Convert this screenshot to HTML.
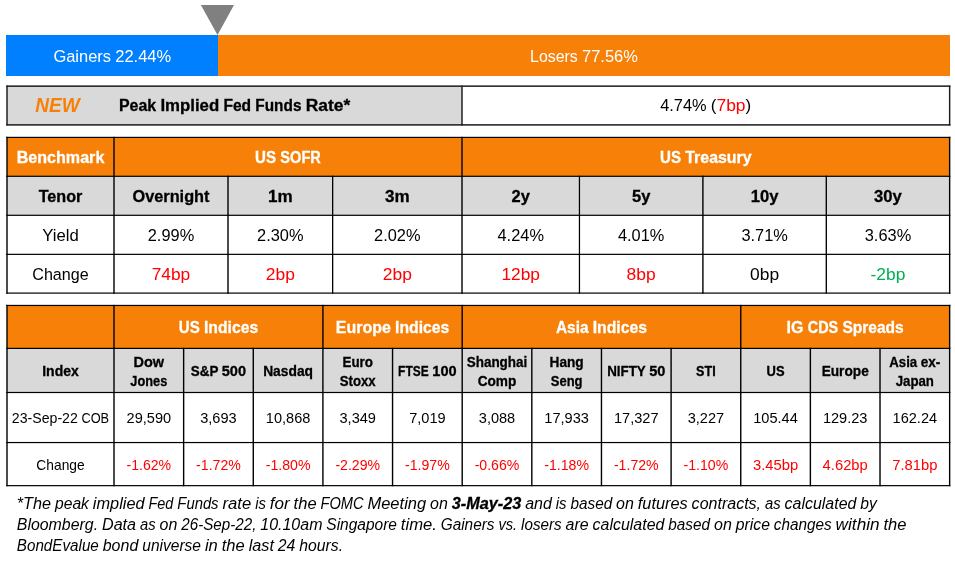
<!DOCTYPE html>
<html lang="en">
<head>
<meta charset="utf-8">
<title>Market Snapshot</title>
<style>
html,body{margin:0;padding:0;background:#fff;}
body{width:955px;height:562px;overflow:hidden;font-family:"Liberation Sans",sans-serif;}
svg{display:block;}
svg text{font-family:"Liberation Sans",sans-serif;white-space:pre;}
</style>
</head>
<body>
<svg width="955" height="562" viewBox="0 0 955 562">
<rect x="6.00" y="35.00" width="212.00" height="41.00" fill="#0080FF"/>
<rect x="218.00" y="35.00" width="732.00" height="41.00" fill="#F78008"/>
<polygon points="200.9,5 234,5 217.5,34.9" fill="#808080"/>
<text y="61.50" font-size="16.80" fill="#fff"><tspan x="53.43" textLength="57.60" lengthAdjust="spacingAndGlyphs">Gainers</tspan> <tspan x="115.25" textLength="55.91" lengthAdjust="spacingAndGlyphs">22.44%</tspan></text>
<text y="61.50" font-size="16.80" fill="#fff"><tspan x="530.04" textLength="47.78" lengthAdjust="spacingAndGlyphs">Losers</tspan> <tspan x="582.04" textLength="55.91" lengthAdjust="spacingAndGlyphs">77.56%</tspan></text>
<rect x="7.00" y="86.00" width="455.00" height="38.90" fill="#D9D9D9"/>
<rect x="6.25" y="85.40" width="944.15" height="1.50" fill="#1c1c1c"/>
<rect x="6.25" y="124.15" width="944.15" height="1.50" fill="#1c1c1c"/>
<rect x="6.28" y="85.55" width="1.45" height="39.95" fill="#1c1c1c"/>
<rect x="461.27" y="85.55" width="1.45" height="39.95" fill="#1c1c1c"/>
<rect x="948.92" y="85.55" width="1.45" height="39.95" fill="#1c1c1c"/>
<text x="35.2" y="111.5" font-size="19.6" font-weight="bold" font-style="italic" fill="#F78008" textLength="44.5" lengthAdjust="spacingAndGlyphs">NEW</text>
<text y="110.90" font-size="16.80" font-weight="bold" stroke="#000" stroke-width="0.3"><tspan x="119.00" textLength="37.21" lengthAdjust="spacingAndGlyphs">Peak</tspan> <tspan x="160.44" textLength="58.78" lengthAdjust="spacingAndGlyphs">Implied</tspan> <tspan x="223.43" textLength="27.71" lengthAdjust="spacingAndGlyphs">Fed</tspan> <tspan x="255.37" textLength="46.07" lengthAdjust="spacingAndGlyphs">Funds</tspan> <tspan x="305.66" textLength="44.50" lengthAdjust="spacingAndGlyphs">Rate*</tspan></text>
<text y="110.90" font-size="16.80"><tspan x="660.16" textLength="46.45" lengthAdjust="spacingAndGlyphs">4.74%</tspan> <tspan x="710.83" textLength="5.66" lengthAdjust="spacingAndGlyphs">(</tspan><tspan x="716.49" textLength="29.08" lengthAdjust="spacingAndGlyphs" fill="#FF0000">7bp</tspan><tspan x="745.58" textLength="5.66" lengthAdjust="spacingAndGlyphs">)</tspan></text>
<rect x="7.00" y="137.40" width="942.65" height="38.90" fill="#F78008"/>
<rect x="7.00" y="176.30" width="942.65" height="39.00" fill="#D9D9D9"/>
<rect x="6.25" y="136.80" width="944.15" height="1.20" fill="#000"/>
<rect x="6.25" y="175.70" width="944.15" height="1.20" fill="#000"/>
<rect x="6.25" y="214.70" width="944.15" height="1.20" fill="#000"/>
<rect x="6.25" y="253.75" width="944.15" height="1.20" fill="#000"/>
<rect x="6.25" y="292.50" width="944.15" height="1.20" fill="#000"/>
<rect x="6.30" y="136.80" width="1.40" height="156.90" fill="#000"/>
<rect x="113.30" y="136.80" width="1.40" height="156.90" fill="#000"/>
<rect x="227.30" y="175.70" width="1.40" height="118.00" fill="#000"/>
<rect x="332.00" y="175.70" width="1.30" height="118.00" fill="#000"/>
<rect x="461.30" y="136.80" width="1.40" height="156.90" fill="#000"/>
<rect x="578.83" y="175.70" width="1.25" height="118.00" fill="#000"/>
<rect x="702.20" y="175.70" width="1.40" height="118.00" fill="#000"/>
<rect x="825.62" y="175.70" width="1.35" height="118.00" fill="#000"/>
<rect x="948.95" y="136.80" width="1.40" height="156.90" fill="#000"/>
<text x="16.64" y="162.85" font-size="16.80" textLength="87.72" lengthAdjust="spacingAndGlyphs" fill="#fff" font-weight="bold" stroke="#fff" stroke-width="0.3">Benchmark</text>
<text y="162.85" font-size="16.80" fill="#fff" font-weight="bold" stroke="#fff" stroke-width="0.3"><tspan x="255.12" textLength="21.01" lengthAdjust="spacingAndGlyphs">US</tspan> <tspan x="280.35" textLength="40.53" lengthAdjust="spacingAndGlyphs">SOFR</tspan></text>
<text y="162.85" font-size="16.80" fill="#fff" font-weight="bold" stroke="#fff" stroke-width="0.3"><tspan x="660.03" textLength="21.01" lengthAdjust="spacingAndGlyphs">US</tspan> <tspan x="685.26" textLength="66.36" lengthAdjust="spacingAndGlyphs">Treasury</tspan></text>
<text x="38.64" y="201.80" font-size="16.80" textLength="43.72" lengthAdjust="spacingAndGlyphs" font-weight="bold" stroke="#000" stroke-width="0.3">Tenor</text>
<text x="132.45" y="201.80" font-size="16.80" textLength="77.10" lengthAdjust="spacingAndGlyphs" font-weight="bold" stroke="#000" stroke-width="0.3">Overnight</text>
<text x="268.00" y="201.80" font-size="16.80" textLength="24.65" lengthAdjust="spacingAndGlyphs" font-weight="bold" stroke="#000" stroke-width="0.3">1m</text>
<text x="385.00" y="201.80" font-size="16.80" textLength="24.65" lengthAdjust="spacingAndGlyphs" font-weight="bold" stroke="#000" stroke-width="0.3">3m</text>
<text x="511.57" y="201.80" font-size="16.80" textLength="18.31" lengthAdjust="spacingAndGlyphs" font-weight="bold" stroke="#000" stroke-width="0.3">2y</text>
<text x="632.02" y="201.80" font-size="16.80" textLength="18.31" lengthAdjust="spacingAndGlyphs" font-weight="bold" stroke="#000" stroke-width="0.3">5y</text>
<text x="750.71" y="201.80" font-size="16.80" textLength="27.77" lengthAdjust="spacingAndGlyphs" font-weight="bold" stroke="#000" stroke-width="0.3">10y</text>
<text x="874.09" y="201.80" font-size="16.80" textLength="27.77" lengthAdjust="spacingAndGlyphs" font-weight="bold" stroke="#000" stroke-width="0.3">30y</text>
<text x="42.26" y="240.82" font-size="16.80" textLength="36.48" lengthAdjust="spacingAndGlyphs">Yield</text>
<text x="147.78" y="240.82" font-size="16.80" textLength="46.45" lengthAdjust="spacingAndGlyphs">2.99%</text>
<text x="257.10" y="240.82" font-size="16.80" textLength="46.45" lengthAdjust="spacingAndGlyphs">2.30%</text>
<text x="374.10" y="240.82" font-size="16.80" textLength="46.45" lengthAdjust="spacingAndGlyphs">2.02%</text>
<text x="497.50" y="240.82" font-size="16.80" textLength="46.45" lengthAdjust="spacingAndGlyphs">4.24%</text>
<text x="617.95" y="240.82" font-size="16.80" textLength="46.45" lengthAdjust="spacingAndGlyphs">4.01%</text>
<text x="741.38" y="240.82" font-size="16.80" textLength="46.45" lengthAdjust="spacingAndGlyphs">3.71%</text>
<text x="864.75" y="240.82" font-size="16.80" textLength="46.45" lengthAdjust="spacingAndGlyphs">3.63%</text>
<text x="32.28" y="279.73" font-size="16.80" textLength="56.44" lengthAdjust="spacingAndGlyphs">Change</text>
<text x="151.73" y="279.73" font-size="16.80" textLength="38.54" lengthAdjust="spacingAndGlyphs" fill="#FF0000">74bp</text>
<text x="265.78" y="279.73" font-size="16.80" textLength="29.08" lengthAdjust="spacingAndGlyphs" fill="#FF0000">2bp</text>
<text x="382.78" y="279.73" font-size="16.80" textLength="29.08" lengthAdjust="spacingAndGlyphs" fill="#FF0000">2bp</text>
<text x="501.45" y="279.73" font-size="16.80" textLength="38.54" lengthAdjust="spacingAndGlyphs" fill="#FF0000">12bp</text>
<text x="626.63" y="279.73" font-size="16.80" textLength="29.08" lengthAdjust="spacingAndGlyphs" fill="#FF0000">8bp</text>
<text x="750.06" y="279.73" font-size="16.80" textLength="29.08" lengthAdjust="spacingAndGlyphs">0bp</text>
<text x="870.58" y="279.73" font-size="16.80" textLength="34.80" lengthAdjust="spacingAndGlyphs" fill="#00B050">-2bp</text>
<rect x="7.00" y="305.45" width="942.65" height="42.95" fill="#F78008"/>
<rect x="7.00" y="348.40" width="942.65" height="44.10" fill="#D9D9D9"/>
<rect x="6.25" y="304.85" width="944.15" height="1.20" fill="#000"/>
<rect x="6.25" y="347.80" width="944.15" height="1.20" fill="#000"/>
<rect x="6.25" y="391.90" width="944.15" height="1.20" fill="#000"/>
<rect x="6.25" y="441.95" width="944.15" height="1.20" fill="#000"/>
<rect x="6.25" y="485.05" width="944.15" height="1.20" fill="#000"/>
<rect x="6.30" y="304.85" width="1.40" height="181.40" fill="#000"/>
<rect x="113.30" y="304.85" width="1.40" height="181.40" fill="#000"/>
<rect x="182.94" y="347.80" width="1.40" height="138.45" fill="#000"/>
<rect x="252.58" y="347.80" width="1.40" height="138.45" fill="#000"/>
<rect x="322.21" y="304.85" width="1.40" height="181.40" fill="#000"/>
<rect x="391.85" y="347.80" width="1.40" height="138.45" fill="#000"/>
<rect x="461.49" y="304.85" width="1.40" height="181.40" fill="#000"/>
<rect x="531.12" y="347.80" width="1.40" height="138.45" fill="#000"/>
<rect x="600.76" y="347.80" width="1.40" height="138.45" fill="#000"/>
<rect x="670.40" y="347.80" width="1.40" height="138.45" fill="#000"/>
<rect x="740.04" y="304.85" width="1.40" height="181.40" fill="#000"/>
<rect x="809.67" y="347.80" width="1.40" height="138.45" fill="#000"/>
<rect x="879.31" y="347.80" width="1.40" height="138.45" fill="#000"/>
<rect x="948.95" y="304.85" width="1.40" height="181.40" fill="#000"/>
<text y="332.92" font-size="16.80" fill="#fff" font-weight="bold" stroke="#fff" stroke-width="0.3"><tspan x="178.71" textLength="21.01" lengthAdjust="spacingAndGlyphs">US</tspan> <tspan x="203.94" textLength="54.26" lengthAdjust="spacingAndGlyphs">Indices</tspan></text>
<text y="332.92" font-size="16.80" fill="#fff" font-weight="bold" stroke="#fff" stroke-width="0.3"><tspan x="335.81" textLength="54.99" lengthAdjust="spacingAndGlyphs">Europe</tspan> <tspan x="395.03" textLength="54.26" lengthAdjust="spacingAndGlyphs">Indices</tspan></text>
<text y="332.92" font-size="16.80" fill="#fff" font-weight="bold" stroke="#fff" stroke-width="0.3"><tspan x="555.94" textLength="32.56" lengthAdjust="spacingAndGlyphs">Asia</tspan> <tspan x="592.72" textLength="54.26" lengthAdjust="spacingAndGlyphs">Indices</tspan></text>
<text y="332.92" font-size="16.80" fill="#fff" font-weight="bold" stroke="#fff" stroke-width="0.3"><tspan x="786.62" textLength="16.87" lengthAdjust="spacingAndGlyphs">IG</tspan> <tspan x="807.72" textLength="30.48" lengthAdjust="spacingAndGlyphs">CDS</tspan> <tspan x="842.41" textLength="61.35" lengthAdjust="spacingAndGlyphs">Spreads</tspan></text>
<text x="42.20" y="375.60" font-size="14.40" textLength="36.59" lengthAdjust="spacingAndGlyphs" font-weight="bold" stroke="#000" stroke-width="0.3">Index</text>
<text x="133.53" y="366.60" font-size="14.40" textLength="30.58" lengthAdjust="spacingAndGlyphs" font-weight="bold" stroke="#000" stroke-width="0.3">Dow</text>
<text x="130.36" y="386.10" font-size="14.40" textLength="36.92" lengthAdjust="spacingAndGlyphs" font-weight="bold" stroke="#000" stroke-width="0.3">Jones</text>
<text y="375.60" font-size="14.40" font-weight="bold" stroke="#000" stroke-width="0.3"><tspan x="190.81" textLength="27.35" lengthAdjust="spacingAndGlyphs">S&amp;P</tspan> <tspan x="221.78" textLength="24.33" lengthAdjust="spacingAndGlyphs">500</tspan></text>
<text x="263.15" y="375.60" font-size="14.40" textLength="49.89" lengthAdjust="spacingAndGlyphs" font-weight="bold" stroke="#000" stroke-width="0.3">Nasdaq</text>
<text x="342.49" y="366.60" font-size="14.40" textLength="30.48" lengthAdjust="spacingAndGlyphs" font-weight="bold" stroke="#000" stroke-width="0.3">Euro</text>
<text x="339.76" y="386.10" font-size="14.40" textLength="35.94" lengthAdjust="spacingAndGlyphs" font-weight="bold" stroke="#000" stroke-width="0.3">Stoxx</text>
<text y="375.60" font-size="14.40" font-weight="bold" stroke="#000" stroke-width="0.3"><tspan x="398.12" textLength="30.56" lengthAdjust="spacingAndGlyphs">FTSE</tspan> <tspan x="432.29" textLength="24.33" lengthAdjust="spacingAndGlyphs">100</tspan></text>
<text x="466.69" y="366.60" font-size="14.40" textLength="60.63" lengthAdjust="spacingAndGlyphs" font-weight="bold" stroke="#000" stroke-width="0.3">Shanghai</text>
<text x="477.67" y="386.10" font-size="14.40" textLength="38.67" lengthAdjust="spacingAndGlyphs" font-weight="bold" stroke="#000" stroke-width="0.3">Comp</text>
<text x="549.56" y="366.60" font-size="14.40" textLength="34.16" lengthAdjust="spacingAndGlyphs" font-weight="bold" stroke="#000" stroke-width="0.3">Hang</text>
<text x="550.75" y="386.10" font-size="14.40" textLength="31.79" lengthAdjust="spacingAndGlyphs" font-weight="bold" stroke="#000" stroke-width="0.3">Seng</text>
<text y="375.60" font-size="14.40" font-weight="bold" stroke="#000" stroke-width="0.3"><tspan x="607.17" textLength="38.38" lengthAdjust="spacingAndGlyphs">NIFTY</tspan> <tspan x="649.17" textLength="16.22" lengthAdjust="spacingAndGlyphs">50</tspan></text>
<text x="696.12" y="375.60" font-size="14.40" textLength="19.59" lengthAdjust="spacingAndGlyphs" font-weight="bold" stroke="#000" stroke-width="0.3">STI</text>
<text x="766.55" y="375.60" font-size="14.40" textLength="18.01" lengthAdjust="spacingAndGlyphs" font-weight="bold" stroke="#000" stroke-width="0.3">US</text>
<text x="821.63" y="375.60" font-size="14.40" textLength="47.13" lengthAdjust="spacingAndGlyphs" font-weight="bold" stroke="#000" stroke-width="0.3">Europe</text>
<text y="366.60" font-size="14.40" font-weight="bold" stroke="#000" stroke-width="0.3"><tspan x="889.30" textLength="27.91" lengthAdjust="spacingAndGlyphs">Asia</tspan> <tspan x="920.82" textLength="19.55" lengthAdjust="spacingAndGlyphs">ex-</tspan></text>
<text x="895.70" y="386.10" font-size="14.40" textLength="38.27" lengthAdjust="spacingAndGlyphs" font-weight="bold" stroke="#000" stroke-width="0.3">Japan</text>
<text y="423.00" font-size="14.40"><tspan x="11.87" textLength="65.96" lengthAdjust="spacingAndGlyphs">23-Sep-22</tspan> <tspan x="81.44" textLength="27.69" lengthAdjust="spacingAndGlyphs">COB</tspan></text>
<text x="126.55" y="423.00" font-size="14.40" textLength="44.54" lengthAdjust="spacingAndGlyphs">29,590</text>
<text x="200.24" y="423.00" font-size="14.40" textLength="36.43" lengthAdjust="spacingAndGlyphs">3,693</text>
<text x="265.82" y="423.00" font-size="14.40" textLength="44.54" lengthAdjust="spacingAndGlyphs">10,868</text>
<text x="339.52" y="423.00" font-size="14.40" textLength="36.43" lengthAdjust="spacingAndGlyphs">3,349</text>
<text x="409.15" y="423.00" font-size="14.40" textLength="36.43" lengthAdjust="spacingAndGlyphs">7,019</text>
<text x="478.79" y="423.00" font-size="14.40" textLength="36.43" lengthAdjust="spacingAndGlyphs">3,088</text>
<text x="544.37" y="423.00" font-size="14.40" textLength="44.54" lengthAdjust="spacingAndGlyphs">17,933</text>
<text x="614.01" y="423.00" font-size="14.40" textLength="44.54" lengthAdjust="spacingAndGlyphs">17,327</text>
<text x="687.70" y="423.00" font-size="14.40" textLength="36.43" lengthAdjust="spacingAndGlyphs">3,227</text>
<text x="753.26" y="423.00" font-size="14.40" textLength="44.59" lengthAdjust="spacingAndGlyphs">105.44</text>
<text x="822.90" y="423.00" font-size="14.40" textLength="44.59" lengthAdjust="spacingAndGlyphs">129.23</text>
<text x="892.54" y="423.00" font-size="14.40" textLength="44.59" lengthAdjust="spacingAndGlyphs">162.24</text>
<text x="36.32" y="469.50" font-size="14.40" textLength="48.37" lengthAdjust="spacingAndGlyphs">Change</text>
<text x="126.47" y="469.50" font-size="14.40" textLength="44.70" lengthAdjust="spacingAndGlyphs" fill="#FF0000">-1.62%</text>
<text x="196.10" y="469.50" font-size="14.40" textLength="44.70" lengthAdjust="spacingAndGlyphs" fill="#FF0000">-1.72%</text>
<text x="265.74" y="469.50" font-size="14.40" textLength="44.70" lengthAdjust="spacingAndGlyphs" fill="#FF0000">-1.80%</text>
<text x="335.38" y="469.50" font-size="14.40" textLength="44.70" lengthAdjust="spacingAndGlyphs" fill="#FF0000">-2.29%</text>
<text x="405.02" y="469.50" font-size="14.40" textLength="44.70" lengthAdjust="spacingAndGlyphs" fill="#FF0000">-1.97%</text>
<text x="474.65" y="469.50" font-size="14.40" textLength="44.70" lengthAdjust="spacingAndGlyphs" fill="#FF0000">-0.66%</text>
<text x="544.29" y="469.50" font-size="14.40" textLength="44.70" lengthAdjust="spacingAndGlyphs" fill="#FF0000">-1.18%</text>
<text x="613.93" y="469.50" font-size="14.40" textLength="44.70" lengthAdjust="spacingAndGlyphs" fill="#FF0000">-1.72%</text>
<text x="683.57" y="469.50" font-size="14.40" textLength="44.70" lengthAdjust="spacingAndGlyphs" fill="#FF0000">-1.10%</text>
<text x="752.97" y="469.50" font-size="14.40" textLength="45.18" lengthAdjust="spacingAndGlyphs" fill="#FF0000">3.45bp</text>
<text x="822.60" y="469.50" font-size="14.40" textLength="45.18" lengthAdjust="spacingAndGlyphs" fill="#FF0000">4.62bp</text>
<text x="892.24" y="469.50" font-size="14.40" textLength="45.18" lengthAdjust="spacingAndGlyphs" fill="#FF0000">7.81bp</text>
<text y="508.60" font-size="15.60"><tspan x="16.80" textLength="34.26" lengthAdjust="spacingAndGlyphs" font-style="italic">*The</tspan> <tspan x="54.98" textLength="33.97" lengthAdjust="spacingAndGlyphs" font-style="italic">peak</tspan> <tspan x="92.87" textLength="51.74" lengthAdjust="spacingAndGlyphs" font-style="italic">implied</tspan> <tspan x="148.53" textLength="24.89" lengthAdjust="spacingAndGlyphs" font-style="italic">Fed</tspan> <tspan x="177.34" textLength="41.21" lengthAdjust="spacingAndGlyphs" font-style="italic">Funds</tspan> <tspan x="222.46" textLength="28.75" lengthAdjust="spacingAndGlyphs" font-style="italic">rate</tspan> <tspan x="255.13" textLength="10.72" lengthAdjust="spacingAndGlyphs" font-style="italic">is</tspan> <tspan x="269.77" textLength="19.91" lengthAdjust="spacingAndGlyphs" font-style="italic">for</tspan> <tspan x="293.60" textLength="22.99" lengthAdjust="spacingAndGlyphs" font-style="italic">the</tspan> <tspan x="320.51" textLength="43.02" lengthAdjust="spacingAndGlyphs" font-style="italic">FOMC</tspan> <tspan x="367.45" textLength="58.75" lengthAdjust="spacingAndGlyphs" font-style="italic">Meeting</tspan> <tspan x="430.12" textLength="17.80" lengthAdjust="spacingAndGlyphs" font-style="italic">on</tspan><tspan x="451.84" textLength="69.41" lengthAdjust="spacingAndGlyphs" font-weight="bold" stroke="#000" stroke-width="0.3" font-style="italic">3-May-23</tspan> <tspan x="525.16" textLength="26.73" lengthAdjust="spacingAndGlyphs" font-style="italic">and</tspan> <tspan x="555.81" textLength="10.72" lengthAdjust="spacingAndGlyphs" font-style="italic">is</tspan> <tspan x="570.45" textLength="41.75" lengthAdjust="spacingAndGlyphs" font-style="italic">based</tspan> <tspan x="616.12" textLength="17.80" lengthAdjust="spacingAndGlyphs" font-style="italic">on</tspan> <tspan x="637.84" textLength="49.88" lengthAdjust="spacingAndGlyphs" font-style="italic">futures</tspan> <tspan x="691.64" textLength="69.44" lengthAdjust="spacingAndGlyphs" font-style="italic">contracts,</tspan> <tspan x="765.00" textLength="15.65" lengthAdjust="spacingAndGlyphs" font-style="italic">as</tspan> <tspan x="784.57" textLength="71.80" lengthAdjust="spacingAndGlyphs" font-style="italic">calculated</tspan> <tspan x="860.29" textLength="16.58" lengthAdjust="spacingAndGlyphs" font-style="italic">by</tspan></text>
<text y="529.60" font-size="15.60" font-style="italic"><tspan x="16.80" textLength="81.31" lengthAdjust="spacingAndGlyphs">Bloomberg.</tspan> <tspan x="102.03" textLength="34.05" lengthAdjust="spacingAndGlyphs">Data</tspan> <tspan x="140.00" textLength="15.65" lengthAdjust="spacingAndGlyphs">as</tspan> <tspan x="159.57" textLength="17.80" lengthAdjust="spacingAndGlyphs">on</tspan> <tspan x="181.29" textLength="75.10" lengthAdjust="spacingAndGlyphs">26-Sep-22,</tspan> <tspan x="260.31" textLength="62.13" lengthAdjust="spacingAndGlyphs">10.10am</tspan> <tspan x="326.36" textLength="70.57" lengthAdjust="spacingAndGlyphs">Singapore</tspan> <tspan x="400.84" textLength="36.01" lengthAdjust="spacingAndGlyphs">time.</tspan> <tspan x="440.77" textLength="53.69" lengthAdjust="spacingAndGlyphs">Gainers</tspan> <tspan x="498.38" textLength="18.77" lengthAdjust="spacingAndGlyphs">vs.</tspan> <tspan x="521.07" textLength="40.58" lengthAdjust="spacingAndGlyphs">losers</tspan> <tspan x="565.56" textLength="23.13" lengthAdjust="spacingAndGlyphs">are</tspan> <tspan x="592.61" textLength="71.80" lengthAdjust="spacingAndGlyphs">calculated</tspan> <tspan x="668.33" textLength="41.75" lengthAdjust="spacingAndGlyphs">based</tspan> <tspan x="714.00" textLength="17.80" lengthAdjust="spacingAndGlyphs">on</tspan> <tspan x="735.72" textLength="34.21" lengthAdjust="spacingAndGlyphs">price</tspan> <tspan x="773.84" textLength="57.87" lengthAdjust="spacingAndGlyphs">changes</tspan> <tspan x="835.63" textLength="43.97" lengthAdjust="spacingAndGlyphs">within</tspan> <tspan x="883.52" textLength="22.99" lengthAdjust="spacingAndGlyphs">the</tspan></text>
<text y="550.50" font-size="15.60" font-style="italic"><tspan x="16.80" textLength="82.00" lengthAdjust="spacingAndGlyphs">BondEvalue</tspan> <tspan x="102.72" textLength="35.62" lengthAdjust="spacingAndGlyphs">bond</tspan> <tspan x="142.27" textLength="58.76" lengthAdjust="spacingAndGlyphs">universe</tspan> <tspan x="204.94" textLength="12.89" lengthAdjust="spacingAndGlyphs">in</tspan> <tspan x="221.75" textLength="22.99" lengthAdjust="spacingAndGlyphs">the</tspan> <tspan x="248.66" textLength="25.24" lengthAdjust="spacingAndGlyphs">last</tspan> <tspan x="277.82" textLength="17.57" lengthAdjust="spacingAndGlyphs">24</tspan> <tspan x="299.31" textLength="43.77" lengthAdjust="spacingAndGlyphs">hours.</tspan></text>
</svg>
</body>
</html>
